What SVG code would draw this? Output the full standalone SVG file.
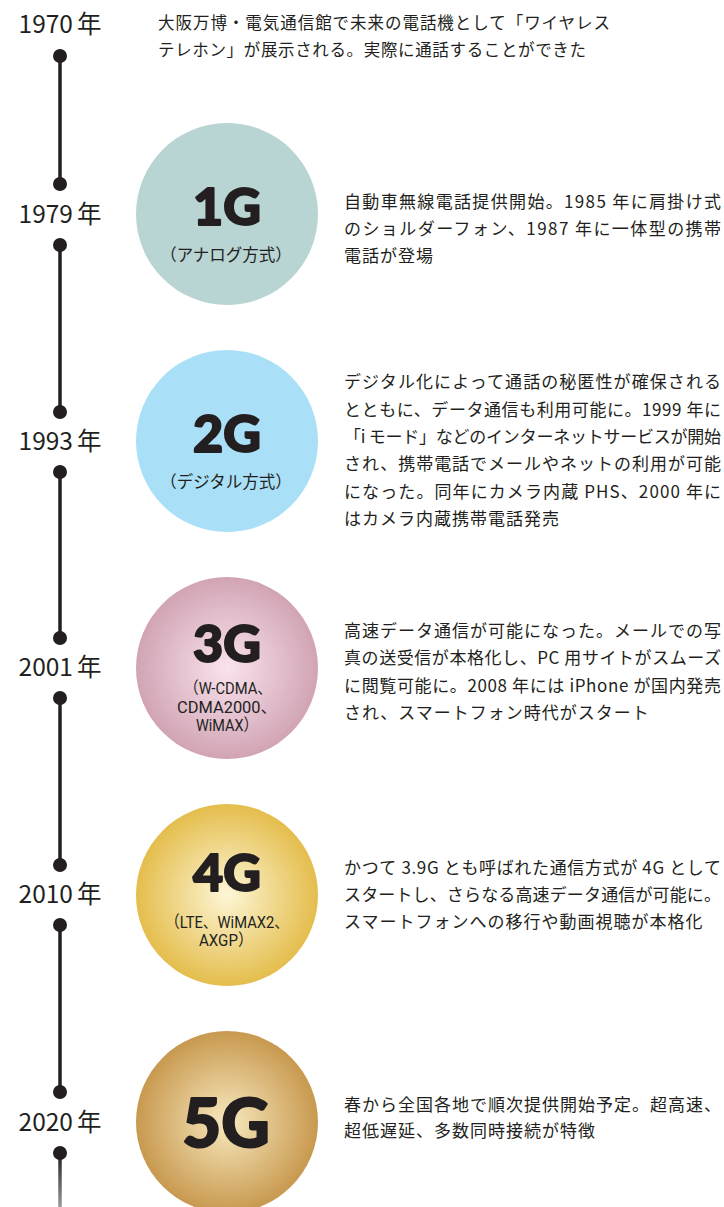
<svg xmlns="http://www.w3.org/2000/svg" width="724" height="1207" viewBox="0 0 724 1207">
<style>
.yr{font-family:"Noto Sans CJK JP","Noto Sans",sans-serif;font-size:24.5px;font-weight:400;fill:#231f20;text-anchor:middle}
.body{font-family:"Noto Sans CJK JP",sans-serif;font-size:17px;fill:#231f20;letter-spacing:1px}
.top{font-family:"Noto Sans CJK JP",sans-serif;font-size:16.5px;fill:#231f20}
.big{font-family:Lato,"Liberation Sans",sans-serif;font-weight:900;fill:#231f20;stroke:#231f20;stroke-width:2;stroke-linejoin:round;text-anchor:middle}
.sub{font-family:"Noto Sans CJK JP",sans-serif;font-size:16.5px;fill:#231f20;text-anchor:middle}
.subn{font-family:Roboto,"Noto Sans CJK JP",sans-serif;font-size:16.5px;font-weight:400;fill:#231f20;text-anchor:middle}
.ln{stroke:#231f20;stroke-width:3.5}
.dot{fill:#231f20}
</style>
<defs>
<radialGradient id="g3" cx="0.5" cy="0.5" r="0.5"><stop offset="0" stop-color="#fae3ee"/><stop offset="1" stop-color="#d1a4b4"/></radialGradient>
<radialGradient id="g4" cx="0.5" cy="0.5" r="0.5"><stop offset="0" stop-color="#fdf6d6"/><stop offset="1" stop-color="#e4bd4c"/></radialGradient>
<radialGradient id="g5" cx="0.5" cy="0.5" r="0.5"><stop offset="0" stop-color="#f8e9bf"/><stop offset="1" stop-color="#c8994f"/></radialGradient>
<linearGradient id="fade" x1="0" y1="0" x2="0" y2="1"><stop offset="0" stop-color="#231f20"/><stop offset="1" stop-color="#999"/></linearGradient>
</defs>

<g id="connectors">
<line class="ln" x1="60" y1="56" x2="60" y2="184"/>
<line class="ln" x1="60" y1="245" x2="60" y2="412"/>
<line class="ln" x1="60" y1="472" x2="60" y2="638"/>
<line class="ln" x1="60" y1="698" x2="60" y2="865"/>
<line class="ln" x1="60" y1="925" x2="60" y2="1092"/>
<rect x="58.25" y="1153" width="3.5" height="54" fill="url(#fade)"/>
<circle class="dot" cx="60" cy="56" r="7"/>
<circle class="dot" cx="60" cy="184" r="7"/>
<circle class="dot" cx="60" cy="245" r="7"/>
<circle class="dot" cx="60" cy="412" r="7"/>
<circle class="dot" cx="60" cy="472" r="7"/>
<circle class="dot" cx="60" cy="638" r="7"/>
<circle class="dot" cx="60" cy="698" r="7"/>
<circle class="dot" cx="60" cy="865" r="7"/>
<circle class="dot" cx="60" cy="925" r="7"/>
<circle class="dot" cx="60" cy="1092" r="7"/>
<circle class="dot" cx="60" cy="1153" r="7"/>
</g>

<g id="y1970">
<text class="yr" x="60" y="33">1970<tspan dx="4">年</tspan></text>
<text class="top" x="158" y="29" textLength="452" lengthAdjust="spacing">大阪万博・電気通信館で未来の電話機として「ワイヤレス</text>
<text class="top" x="158" y="56" textLength="428" lengthAdjust="spacing">テレホン」が展示される。実際に通話することができた</text>
</g>

<g id="y1979">
<text class="yr" x="60" y="223">1979<tspan dx="4">年</tspan></text>
<circle cx="227" cy="214" r="91" fill="#b8d4d3"/>
<text class="big" x="227" y="225" font-size="52">1G</text>
<text class="sub" x="226" y="261">（アナログ方式）</text>
<text class="body" x="344" y="208" textLength="378" lengthAdjust="spacing">自動車無線電話提供開始。1985 年に肩掛け式</text>
<text class="body" x="344" y="235" textLength="378" lengthAdjust="spacing">のショルダーフォン、1987 年に一体型の携帯</text>
<text class="body" x="344" y="262">電話が登場</text>
</g>

<g id="y1993">
<text class="yr" x="60" y="450">1993<tspan dx="4">年</tspan></text>
<circle cx="227" cy="441" r="91" fill="#aadff8"/>
<text class="big" x="227" y="452" font-size="52">2G</text>
<text class="sub" x="226" y="488">（デジタル方式）</text>
<text class="body" x="344" y="388" textLength="378" lengthAdjust="spacing">デジタル化によって通話の秘匿性が確保される</text>
<text class="body" x="344" y="416" textLength="378" lengthAdjust="spacing">とともに、データ通信も利用可能に。1999 年に</text>
<text class="body" x="344" y="443" textLength="378" lengthAdjust="spacing">「i モード」などのインターネットサービスが開始</text>
<text class="body" x="344" y="470" textLength="378" lengthAdjust="spacing">され、携帯電話でメールやネットの利用が可能</text>
<text class="body" x="344" y="498" textLength="378" lengthAdjust="spacing">になった。同年にカメラ内蔵 PHS、2000 年に</text>
<text class="body" x="344" y="525">はカメラ内蔵携帯電話発売</text>
</g>

<g id="y2001">
<text class="yr" x="60" y="676">2001<tspan dx="4">年</tspan></text>
<circle cx="227" cy="668" r="91" fill="url(#g3)"/>
<text class="big" x="227" y="662" font-size="52">3G</text>
<text class="subn" x="228" y="694" textLength="88" lengthAdjust="spacingAndGlyphs">（W-CDMA、</text>
<text class="subn" x="227" y="713" textLength="100" lengthAdjust="spacingAndGlyphs">CDMA2000、</text>
<text class="subn" x="227" y="731" textLength="62" lengthAdjust="spacingAndGlyphs">WiMAX）</text>
<text class="body" x="344" y="637" textLength="378" lengthAdjust="spacing">高速データ通信が可能になった。メールでの写</text>
<text class="body" x="344" y="664" textLength="378" lengthAdjust="spacing">真の送受信が本格化し、PC 用サイトがスムーズ</text>
<text class="body" x="344" y="692" textLength="378" lengthAdjust="spacing">に閲覧可能に。2008 年には iPhone が国内発売</text>
<text class="body" x="344" y="719">され、スマートフォン時代がスタート</text>
</g>

<g id="y2010">
<text class="yr" x="60" y="903">2010<tspan dx="4">年</tspan></text>
<circle cx="227" cy="895" r="91" fill="url(#g4)"/>
<text class="big" x="227" y="891" font-size="52">4G</text>
<text class="subn" x="227" y="928" textLength="124" lengthAdjust="spacingAndGlyphs">（LTE、WiMAX2、</text>
<text class="subn" x="226" y="946" textLength="54" lengthAdjust="spacingAndGlyphs">AXGP）</text>
<text class="body" x="344" y="874" textLength="378" lengthAdjust="spacing">かつて 3.9G とも呼ばれた通信方式が 4G として</text>
<text class="body" x="344" y="901" textLength="378" lengthAdjust="spacing">スタートし、さらなる高速データ通信が可能に。</text>
<text class="body" x="344" y="928">スマートフォンへの移行や動画視聴が本格化</text>
</g>

<g id="y2020">
<text class="yr" x="60" y="1131">2020<tspan dx="4">年</tspan></text>
<circle cx="227" cy="1122" r="91" fill="url(#g5)"/>
<text class="big" x="226" y="1147" font-size="67">5G</text>
<text class="body" x="344" y="1111" textLength="378" lengthAdjust="spacing">春から全国各地で順次提供開始予定。超高速、</text>
<text class="body" x="344" y="1137">超低遅延、多数同時接続が特徴</text>
</g>
</svg>
